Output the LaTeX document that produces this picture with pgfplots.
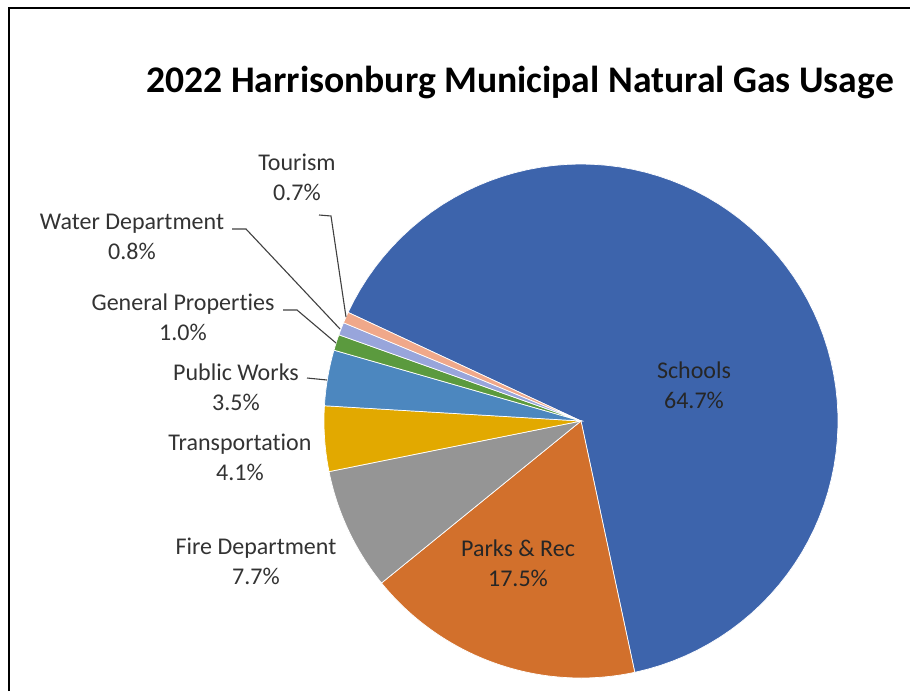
\documentclass[border=0pt]{standalone}
\usepackage{pgfplots}
\pgfplotsset{compat=1.18}
\usepackage{fontspec}
\setmainfont{Carlito}[Ligatures={NoCommon,NoDiscretionary,NoRare}]
\definecolor{cSchools}{HTML}{3D64AC}
\definecolor{cParks}{HTML}{D2702C}
\definecolor{cFire}{HTML}{959595}
\definecolor{cTrans}{HTML}{E2A900}
\definecolor{cPublic}{HTML}{4C87BF}
\definecolor{cGeneral}{HTML}{5B9A3E}
\definecolor{cWater}{HTML}{98A5DB}
\definecolor{cTourism}{HTML}{F0A88A}
\definecolor{lbl}{HTML}{333333}
% pie geometry (pixel units): centre, radius, angle of first slice
\def\cx{581}\def\cy{421}\def\rr{257}
\xdef\curangle{155}
% one slice: colour, percent
\newcommand\slice[2]{%
  \pgfmathsetmacro\sa{\curangle}%
  \pgfmathsetmacro\sb{\curangle-3.6*#2}%
  \edef\temp{\noexpand\addplot[fill=#1,draw=white,line width=0.7pt,domain=\sb:\sa,samples=80,variable=\noexpand\t]
    ({\cx+\rr*cos(\noexpand\t)},{\cy-\rr*sin(\noexpand\t)}) -- (\cx,\cy) -- cycle;}%
  \temp
  \xdef\curangle{\sb}}
\tikzset{lab/.style={font=\fontsize{24}{30}\selectfont, text=lbl, align=center, inner sep=0pt}}
\begin{document}
\begin{tikzpicture}
\begin{axis}[
  width=910pt, height=691pt, scale only axis,
  xmin=0, xmax=910, ymin=0, ymax=691, y dir=reverse,
  hide axis, clip=false,
]
% data: share of municipal natural gas usage, percent (clockwise from Schools)
\slice{cSchools}{64.7}
\slice{cParks}{17.5}
\slice{cFire}{7.7}
\slice{cTrans}{4.1}
\slice{cPublic}{3.5}
\slice{cGeneral}{1.0}
\slice{cWater}{0.8}
\slice{cTourism}{0.7}
% frame
\draw[line width=2.6pt, black] (9,691) -- (9,8) -- (910,8);
% title
\node[font=\fontsize{37.6}{42}\selectfont\bfseries, text=black, inner sep=0pt] at (520,82) {2022 Harrisonburg Municipal Natural Gas Usage};
% leader lines
\draw[line width=1.1pt, black!75] (319,215) -- (331,216) -- (346,317);
\draw[line width=1.1pt, black!75] (232,229) -- (246,229) -- (340,329);
\draw[line width=1.1pt, black!75] (283,310) -- (297,310) -- (336,343);
\draw[line width=1.1pt, black!75] (307,378) -- (327,380);
% labels
\node[lab] at (297,177) {Tourism\\0.7\%};
\node[lab] at (132,237) {Water Department\\0.8\%};
\node[lab] at (183,317) {General Properties\\1.0\%};
\node[lab] at (236,387) {Public Works\\3.5\%};
\node[lab] at (240,457) {Transportation\\4.1\%};
\node[lab] at (256,561) {Fire Department\\7.7\%};
\node[lab, text=black!85] at (518,563) {Parks \& Rec\\17.5\%};
\node[lab, text=black!85] at (694,385) {Schools\\64.7\%};
\end{axis}
\pgfresetboundingbox
\path (current axis.south west) rectangle (current axis.north east);
\end{tikzpicture}
\end{document}
